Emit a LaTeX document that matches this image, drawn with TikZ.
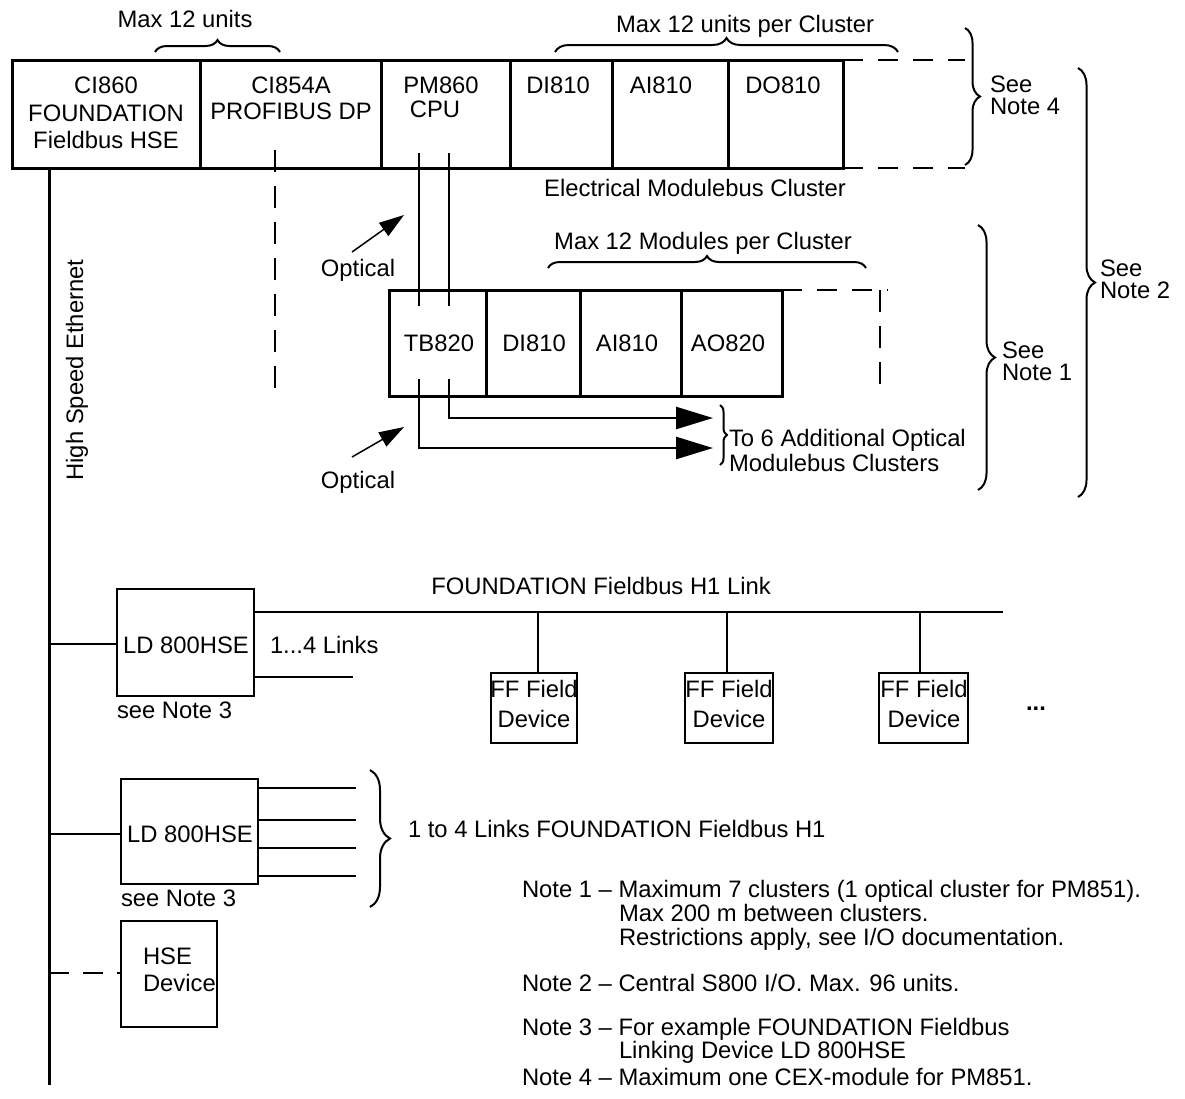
\documentclass[tikz,border=0pt]{standalone}
\usepackage{fontspec}
\setmainfont{Liberation Sans}
\usetikzlibrary{arrows.meta,decorations.pathreplacing}
\begin{document}
\begin{tikzpicture}[x=1pt,y=-1pt,
  every node/.style={font=\fontsize{23.8}{27}\selectfont, inner sep=0pt, outer sep=0pt},
  mcell/.style n args={2}{draw, line width=3pt, minimum width=#1, minimum height=#2},
  dbox/.style n args={2}{draw, line width=2pt, minimum width=#1, minimum height=#2},
  lbl/.style={anchor=base},
  lbll/.style={anchor=base west},
  seenote/.style={anchor=west, align=left, font=\fontsize{23.8}{22}\selectfont},
  wire/.style={line width=2pt},
  thickwire/.style={line width=3pt},
  dashwire/.style={line width=2.5pt, dash pattern=on 20pt off 14pt},
  bigarrow/.style={line width=2.5pt, -{Triangle[length=37pt,width=22pt]}},
  optarrow/.style={line width=1.5pt, -{Triangle[length=25pt,width=16pt]}},
  brc/.style={line width=2pt, decorate, decoration={brace, amplitude=#1}},
]
\useasboundingbox (0,0) rectangle (1185,1098);

% ---------- Electrical Modulebus cluster ----------
\node[mcell={188}{108}] (ci860) at (106,114) {};
\node[mcell={181}{108}] (ci854) at (290.5,114) {};
\node[mcell={129}{108}] (pm860) at (445.5,114) {};
\node[mcell={102}{108}] (di810a) at (561,114) {};
\node[mcell={116}{108}] (ai810a) at (670,114) {};
\node[mcell={115}{108}] (do810) at (785.5,114) {};

\node[lbl] (t1) at (106,93) {CI860};
\node[lbl] (t2) at (106,121) {FOUNDATION};
\node[lbl] (t3) at (106,148) {Fieldbus HSE};
\node[lbl] (t4) at (291,93) {CI854A};
\node[lbl] (t5) at (291,119) {PROFIBUS DP};
\node[lbl] (t6) at (441,93) {PM860};
\node[lbl] (t7) at (435,117) {CPU};
\node[lbl] (t8) at (558,93) {DI810};
\node[lbl] (t9) at (661,93) {AI810};
\node[lbl] (t10) at (783,93) {DO810};

\coordinate (ext1) at (965,60);
\coordinate (ext2) at (965,168);
\draw[dashwire, dash pattern=on 20pt off 15pt] (do810.north east) -- (ext1);
\draw[dashwire, dash pattern=on 20pt off 15pt] (do810.south east) -- (ext2);

\node[lbl] (max12u) at (185,27) {Max 12 units};
\draw[brc=12pt] (155,52) -- (280,52);
\node[lbl] (max12c) at (745,32) {Max 12 units per Cluster};
\draw[brc=14pt] (555,52) -- (898,52);
\node[lbl] (emc) at (695,196) {Electrical Modulebus Cluster};

\draw[brc=15pt] (965,28) -- (965,165);
\node[seenote] (sn4) at (990,95) {See\\Note 4};

% ---------- Optical Modulebus cluster ----------
\node[mcell={97}{106}] (tb820) at (437.5,343) {};
\node[mcell={94}{106}] (di810b) at (533,343) {};
\node[mcell={101}{106}] (ai810b) at (630.5,343) {};
\node[mcell={101}{106}] (ao820) at (731.5,343) {};
\node[lbl] (t11) at (439,351) {TB820};
\node[lbl] (t12) at (534,351) {DI810};
\node[lbl] (t13) at (627,351) {AI810};
\node[lbl] (t14) at (728,351) {AO820};

\coordinate (ext3) at (888,290);
\coordinate (ext4a) at (880,290);
\coordinate (ext4b) at (880,396);
\draw[dashwire, dash pattern=on 20pt off 15pt] (ao820.north east) -- (ext3);
\draw[dashwire, dash pattern=on 22pt off 14pt] (ext4a) -- (ext4b);

\node[lbl] (max12m) at (703,249) {Max 12 Modules per Cluster};
\draw[brc=12pt] (548,268) -- (866,268);

% fibres PM860 -> TB820
\coordinate (pa) at (419,153);
\coordinate (pb) at (449,153);
\coordinate (ta) at (419,306);
\coordinate (tb) at (449,306);
\draw[line width=2.5pt] (pa) -- (ta);
\draw[line width=2.5pt] (pb) -- (tb);

% fibres out of TB820
\coordinate (oa) at (419,379);
\coordinate (ob) at (449,379);
\coordinate (ea) at (713,448);
\coordinate (eb) at (713,418);
\draw[bigarrow] (ob) |- (eb);
\draw[bigarrow] (oa) |- (ea);
\draw[brc=7pt] (720,405) -- (720,465);
\node[lbll] (to6a) at (729,446) {To 6 Additional Optical};
\node[lbll] (to6b) at (729,471) {Modulebus Clusters};

% optical pointers
\node[lbl] (opt1) at (358,276) {Optical};
\node[lbl] (opt2) at (358,488) {Optical};
\coordinate (o1s) at (352,252);
\coordinate (o1e) at (404,215);
\coordinate (o2s) at (352,457);
\coordinate (o2e) at (404,427);
\draw[optarrow] (o1s) -- (o1e);
\draw[optarrow] (o2s) -- (o2e);

% CI854A dashed
\coordinate (pd1) at (275,150);
\coordinate (pd2) at (275,396);
\draw[dashwire, dash pattern=on 22pt off 14pt] (pd1) -- (pd2);

% notes braces
\draw[brc=17pt] (978,225) -- (978,490);
\node[seenote] (sn1) at (1002,361) {See\\Note 1};
\draw[brc=17pt] (1078,68) -- (1078,497);
\node[seenote] (sn2) at (1100,279) {See\\Note 2};

% ---------- High Speed Ethernet ----------
\coordinate (bus1) at (49,168);
\coordinate (bus2) at (49,1085);
\draw[thickwire] (bus1) -- (bus2);
\node[rotate=90, anchor=base] (hse) at (83,370) {High Speed Ethernet};

% LD 800HSE 1
\node[dbox={137}{107}] (ld1) at (185.5,642.5) {};
\node[lbl] (t15) at (186,653) {LD 800HSE};
\coordinate (bj1) at (49,644);
\draw[wire] (bj1) -- (ld1.west |- bj1);
\coordinate (h1e) at (1003,612);
\draw[wire] (ld1.east |- h1e) -- (h1e);
\coordinate (stub1) at (353,677);
\draw[wire] (ld1.east |- stub1) -- (stub1);
\node[lbll] (l14) at (270,653) {1...4 Links};
\node[lbll] (sn3a) at (117,718) {see Note 3};
\node[lbl] (h1lbl) at (601,594) {FOUNDATION Fieldbus H1 Link};

% FF devices
\node[dbox={86}{70}] (ff1) at (534,708) {};
\node[dbox={88}{70}] (ff2) at (729,708) {};
\node[dbox={89}{70}] (ff3) at (923.5,708) {};
\coordinate (j1) at (538,612);
\coordinate (j2) at (727,612);
\coordinate (j3) at (920,612);
\draw[wire] (j1) -- (j1 |- ff1.north);
\draw[wire] (j2) -- (j2 |- ff2.north);
\draw[wire] (j3) -- (j3 |- ff3.north);
\node[lbl] (f1a) at (534,697) {FF Field};
\node[lbl] (f1b) at (534,727) {Device};
\node[lbl] (f2a) at (729,697) {FF Field};
\node[lbl] (f2b) at (729,727) {Device};
\node[lbl] (f3a) at (924,697) {FF Field};
\node[lbl] (f3b) at (924,727) {Device};
\node[lbl] (dots) at (1036,710) {\textbf{...}};

% LD 800HSE 2
\node[dbox={137}{105}] (ld2) at (189.5,831.5) {};
\node[lbl] (t16) at (190,842) {LD 800HSE};
\coordinate (bj2) at (49,834);
\draw[wire] (bj2) -- (ld2.west |- bj2);
\coordinate (s1) at (356,788);
\coordinate (s2) at (356,820);
\coordinate (s3) at (356,848);
\coordinate (s4) at (356,876);
\draw[wire] (ld2.east |- s1) -- (s1);
\draw[wire] (ld2.east |- s2) -- (s2);
\draw[wire] (ld2.east |- s3) -- (s3);
\draw[wire] (ld2.east |- s4) -- (s4);
\draw[brc=20pt] (370,770) -- (370,907);
\node[lbll] (l1to4) at (408,837) {1 to 4 Links FOUNDATION Fieldbus H1};
\node[lbll] (sn3b) at (121,906) {see Note 3};

% HSE device
\node[dbox={96}{106}] (hsedev) at (169,974) {};
\node[lbll] (t17) at (143,964) {HSE};
\node[lbll] (t18) at (143,991) {Device};
\coordinate (bj3) at (49,973);
\draw[wire, dash pattern=on 20pt off 14pt] (bj3) -- (hsedev.west |- bj3);

% ---------- Notes ----------
\node[lbll] (n1) at (522,897) {Note 1 – Maximum 7 clusters (1 optical cluster for PM851).};
\node[lbll] (n1b) at (619,921) {Max 200 m between clusters.};
\node[lbll] (n1c) at (619,945) {Restrictions apply, see I/O documentation.};
\node[lbll] (n2) at (522,991) {Note 2 – Central S800 I/O. Max. 96 units.};
\node[lbll] (n3) at (522,1035) {Note 3 – For example FOUNDATION Fieldbus};
\node[lbll] (n3b) at (619,1058) {Linking Device LD 800HSE};
\node[lbll] (n4) at (522,1085) {Note 4 – Maximum one CEX-module for PM851.};
\end{tikzpicture}
\end{document}
